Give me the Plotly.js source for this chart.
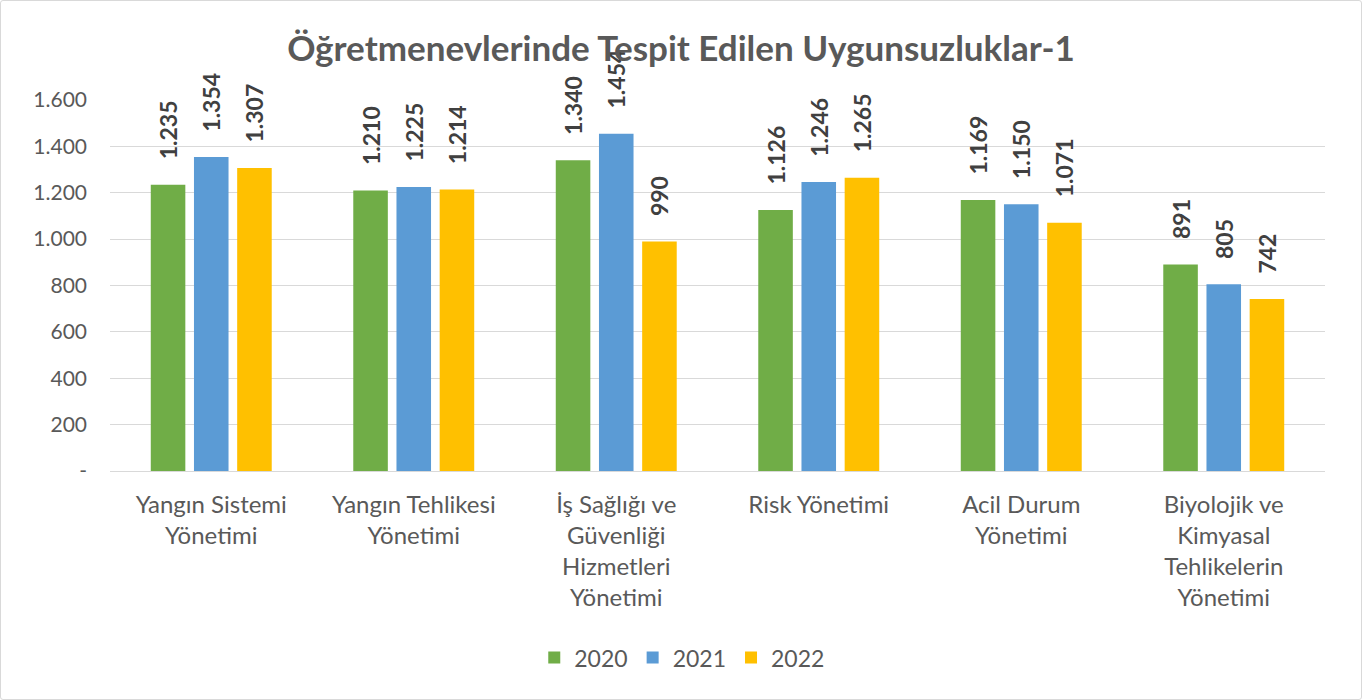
<!DOCTYPE html>
<html>
<head>
<meta charset="utf-8">
<script src="https://cdn.plot.ly/plotly-3.0.1.min.js"></script>
<style>
html,body{margin:0;padding:0;background:#fff;}
#wrap{position:absolute;left:0;top:0;width:1360px;height:698px;border:1px solid #d9d9d9;border-radius:3px;}
#chart{width:1360px;height:698px;}
</style>
</head>
<body>
<div id="wrap"><div id="chart"></div></div>
<script>
const categories = [
  "Yangın Sistemi<br>Yönetimi",
  "Yangın Tehlikesi<br>Yönetimi",
  "İş Sağlığı ve<br>Güvenliği<br>Hizmetleri<br>Yönetimi",
  "Risk Yönetimi",
  "Acil Durum<br>Yönetimi",
  "Biyolojik ve<br>Kimyasal<br>Tehlikelerin<br>Yönetimi"
];
const series2020 = [1235, 1210, 1340, 1126, 1169, 891];
const series2021 = [1354, 1225, 1454, 1246, 1150, 805];
const series2022 = [1307, 1214, 990, 1265, 1071, 742];
const seriesNames = ["2020", "2021", "2022"];
const tickValues = [0, 200, 400, 600, 800, 1000, 1200, 1400, 1600];
const tickLabels = ["-", "200", "400", "600", "800", "1.000", "1.200", "1.400", "1.600"];

const colors = ["#70AD47", "#5B9BD5", "#FFC000"];
const fontFam = "Lato, 'Open Sans', sans-serif";

function fmt(v){ return v >= 1000 ? Math.floor(v/1000) + "." + String(v%1000).padStart(3,"0") : String(v); }

const allSeries = [series2020, series2021, series2022];
const traces = allSeries.map((s, i) => ({
  type: "bar",
  name: seriesNames[i],
  x: categories,
  y: s,
  marker: {color: colors[i]},
  text: s.map(v => "\u00a0\u00a0\u00a0\u00a0" + fmt(v)),
  textposition: "outside",
  textangle: -90,
  constraintext: "none",
  cliponaxis: false,
  textfont: {family: fontFam, size: 23, color: "#404040", weight: "bold"},
  hoverinfo: "x+y"
}));

const layout = {
  width: 1360, height: 698,
  margin: {l: 109, r: 36, t: 99, b: 228},
  paper_bgcolor: "rgba(0,0,0,0)",
  plot_bgcolor: "#fff",
  title: {
    text: "<b>Öğretmenevlerinde Tespit Edilen Uygunsuzluklar-1</b>",
    font: {family: fontFam, size: 35, color: "#595959"},
    x: 0.5, xanchor: "center", y: 0.932, yanchor: "middle"
  },
  barmode: "group",
  bargap: 0.36,
  bargroupgap: 0.2,
  xaxis: {
    tickfont: {family: fontFam, size: 24, color: "#595959"},
    showline: true, linecolor: "#d9d9d9", linewidth: 1,
    ticks: "", automargin: false, ticklabelstandoff: 12
  },
  yaxis: {
    range: [0, 1600],
    tickvals: tickValues,
    ticktext: tickLabels,
    tickfont: {family: fontFam, size: 21, color: "#595959"},
    gridcolor: "#d9d9d9", gridwidth: 1,
    zeroline: false, showline: false, ticks: "",
    automargin: false, ticklabelstandoff: 22
  },
  legend: {
    orientation: "h",
    x: 0.471, xanchor: "center",
    y: -0.503, yanchor: "middle",
    font: {family: fontFam, size: 23, color: "#595959"},
    itemwidth: 30
  },
  showlegend: true
};

Plotly.newPlot("chart", traces, layout, {displayModeBar: false, staticPlot: true});
</script>
</body>
</html>
